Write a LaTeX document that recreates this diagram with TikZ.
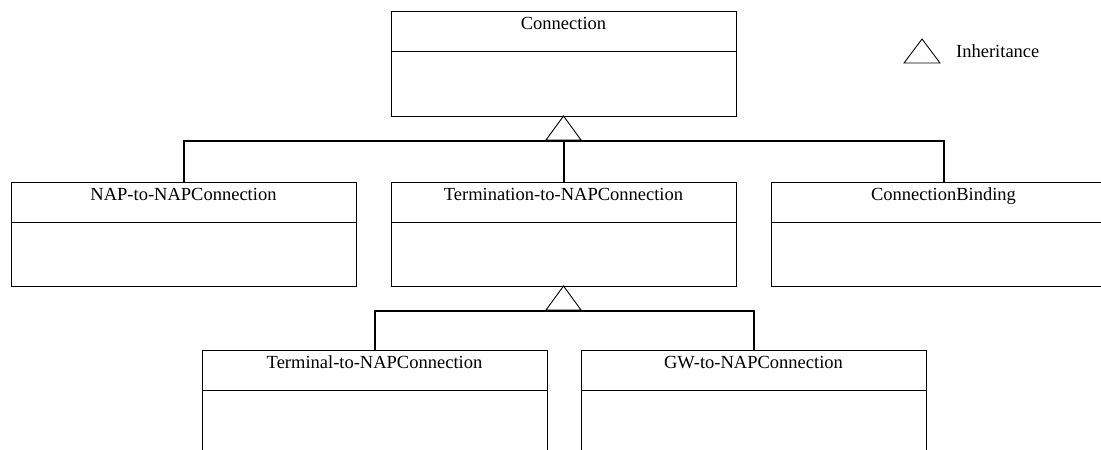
\documentclass[tikz,border=0pt]{standalone}
\usepackage{fontspec}
\setmainfont{Liberation Serif}
\usetikzlibrary{calc}
\begin{document}
\begin{tikzpicture}[x=1pt,y=-1pt,
  classbox/.style={draw=black, line width=1pt, fill=white, minimum width=345pt,
    minimum height=105pt, anchor=north west, inner sep=0pt, outer sep=0pt},
  classname/.style={anchor=base, inner sep=0pt, font=\fontsize{18.5}{22}\selectfont},
  divider/.style={line width=1pt},
  link/.style={line width=2pt},
  inherit/.style={line width=0.9pt, line join=miter}
]
\useasboundingbox (0,0) rectangle (1101,450);
\clip (0,0) rectangle (1101,450);

% class boxes: name compartment (40pt) above an empty body
\newcommand{\umlclass}[4]{%
  \node[classbox, minimum height=#4] (#1) at (#2) {};
  \node[classname] (#1-name) at ($(#1.north)+(0,18)$) {#3};
  \draw[divider] ($(#1.north west)+(0,40)$) -- ($(#1.north east)+(0,40)$);
}
\umlclass{conn}{391,11}{Connection}{105pt}
\umlclass{nap}{11,182}{NAP-to-NAPConnection}{104pt}
\umlclass{term}{391,182}{Termination-to-NAPConnection}{104pt}
\umlclass{bind}{771,182}{ConnectionBinding}{104pt}
\umlclass{tnap}{202,350}{Terminal-to-NAPConnection}{120pt}
\umlclass{gw}{581,350}{GW-to-NAPConnection}{120pt}

% inheritance: Connection <- NAP-to-NAP, Termination-to-NAP, Binding
\coordinate (j1) at ($(conn.south)+(0,25)$);
\draw[inherit] (conn.south) -- ++(-17.5,24) -- ++(35,0) -- cycle;
\draw[link] (nap.north) |- (j1) -| (bind.north);
\draw[link] (j1) -- (term.north);

% inheritance: Termination-to-NAP <- Terminal-to-NAP, GW-to-NAP
\coordinate (j2) at ($(term.south)+(0,25)$);
\draw[inherit] (term.south) -- ++(-17.5,24) -- ++(35,0) -- cycle;
\draw[link] (tnap.north) |- (j2) -| (gw.north);

% legend
\coordinate (legtri) at (922,39);
\draw[inherit] (legtri) -- ++(-18,24) -- ++(36,0) -- cycle;
\node[classname, anchor=base west] (legend) at (956,57) {Inheritance};
\end{tikzpicture}
\end{document}
